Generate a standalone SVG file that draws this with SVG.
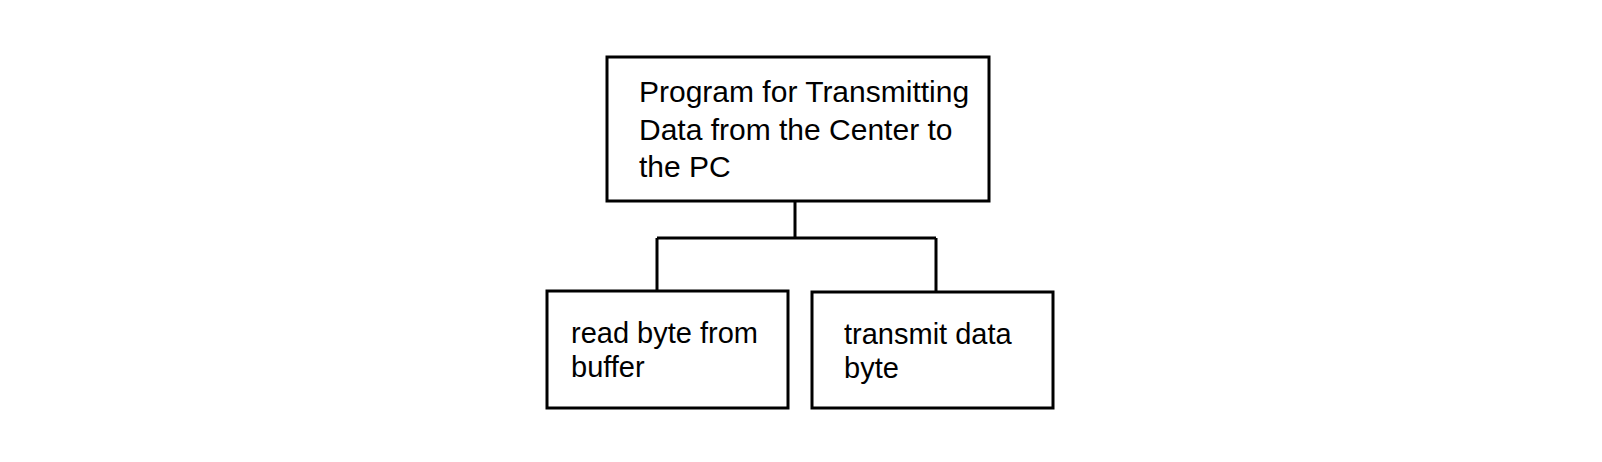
<svg xmlns="http://www.w3.org/2000/svg" width="1602" height="462" viewBox="0 0 1602 462">
<style>
rect{fill:#fff;stroke:#000;stroke-width:3}
path{fill:none;stroke:#000;stroke-width:3}
text{font-family:"Liberation Sans",Arial,sans-serif;font-size:29px;fill:#000}
.t{font-size:30px}
</style>
<rect x="0" y="0" width="1602" height="462" style="stroke:none"/>
<g id="connectors"><path d="M795 201V238M657 238H936M657 238V291M936 238V292"/></g>
<g id="root"><rect x="607" y="57" width="382" height="144"/>
<text class="t" x="639" y="102">Program for Transmitting</text><text class="t" x="639" y="140">Data from the Center to</text><text class="t" x="639" y="177">the PC</text></g>
<g id="read"><rect x="547" y="291" width="241" height="117"/>
<text x="571" y="343">read byte from</text><text x="571" y="377">buffer</text></g>
<g id="transmit"><rect x="812" y="292" width="241" height="116"/>
<text x="844" y="344">transmit data</text><text x="844" y="378">byte</text></g>
</svg>
